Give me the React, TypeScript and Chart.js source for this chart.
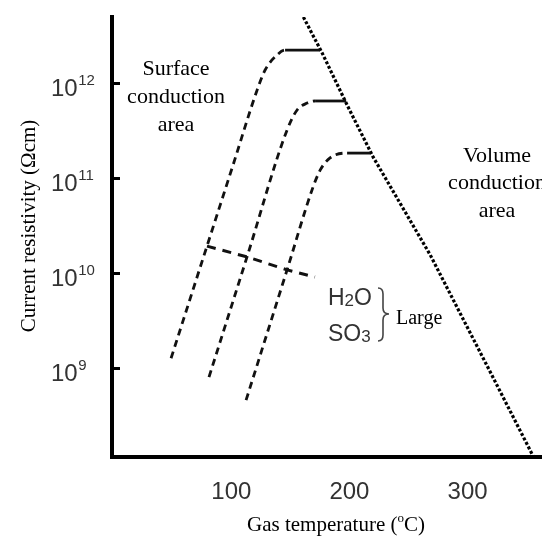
import React, { useEffect, useRef } from "react";
import { Chart, registerables } from "chart.js";

Chart.register(...registerables);

// ---- data ----
const xTicks = [100, 200, 300];
const yTicks = [1e9, 1e10, 1e11, 1e12];

// three dust resistivity curves: gas temperature (°C) -> resistivity (Ωcm)
const curve1Temp = [49, 79.4, 101.4, 121.8, 128.6, 138.7, 145.5, 175];
const curve1Res = [1.27e9, 1.92e10, 1.36e11, 8.4e11, 1.37e12, 1.97e12, 2.22e12, 2.22e12];

const curve2Temp = [81.1, 113.3, 147.2, 155.7, 164.2, 170.9, 197.2];
const curve2Res = [8.04e8, 1.48e10, 3.2e11, 5.2e11, 6.15e11, 6.47e11, 6.47e11];

const curve3Temp = [112.5, 147.2, 169.2, 175.2, 183.6, 198.0, 217.5];
const curve3Res = [4.6e8, 1.08e10, 8.04e10, 1.21e11, 1.63e11, 1.83e11, 1.83e11];

// volume conduction boundary line
const boundaryTemp = [161, 176.9, 198, 220.1, 268.4, 320.1, 356];
const boundaryRes = [4.95e12, 2.07e12, 5.87e11, 1.66e11, 1.55e10, 8.65e8, 1.15e8];

// H2O / SO3 direction line
const moistTemp = [79.4, 113.3, 147.2, 170.8];
const moistRes = [1.92e10, 1.48e10, 1.08e10, 9.08e9];

const xMin = -1;
const xMax = 363;
const yMin = 1.16e8;
const yMax = 4.95e12;

const serif = '"Liberation Serif", "Times New Roman", serif';
const sans = '"Liberation Sans", Arial, sans-serif';

const toPts = (xs: number[], ys: number[]) => xs.map((x, i) => ({ x, y: ys[i] }));

export default function App() {
  const ref = useRef<HTMLCanvasElement>(null);

  useEffect(() => {
    const canvas = ref.current;
    if (!canvas) return;

    const annotations = {
      id: "annotations",
      afterDraw(chart: any) {
        const { ctx, chartArea } = chart;
        const ys = chart.scales.y;
        ctx.save();

        // inward y tick marks
        ctx.strokeStyle = "#000";
        ctx.lineWidth = 3;
        yTicks.forEach((v) => {
          const py = Math.round(ys.getPixelForValue(v)) + 0.5;
          ctx.beginPath();
          ctx.moveTo(chartArea.left - 2, py);
          ctx.lineTo(chartArea.left + 8, py);
          ctx.stroke();
        });

        // y tick labels with superscript exponents
        ctx.fillStyle = "#333";
        ctx.textAlign = "left";
        ctx.textBaseline = "alphabetic";
        yTicks.forEach((v) => {
          const py = ys.getPixelForValue(v);
          ctx.font = `24px ${sans}`;
          ctx.fillText("10", 51, py + 13);
          const w = ctx.measureText("10").width;
          ctx.font = `15px ${sans}`;
          ctx.fillText(String(Math.round(Math.log10(v))), 51 + w + 0.5, py + 2);
        });

        // chemical labels
        const chem = (a: string, sub: string, b: string, x: number, base: number, subFirst: boolean) => {
          ctx.fillStyle = "#333";
          let cx = x;
          ctx.font = `23px ${sans}`;
          ctx.fillText(a, cx, base);
          cx += ctx.measureText(a).width;
          if (subFirst) {
            ctx.font = `17px ${sans}`;
            ctx.fillText(sub, cx, base + 1);
            cx += ctx.measureText(sub).width;
            ctx.font = `23px ${sans}`;
            ctx.fillText(b, cx, base);
          } else {
            ctx.fillText(b, cx, base);
            cx += ctx.measureText(b).width;
            ctx.font = `17px ${sans}`;
            ctx.fillText(sub, cx, base + 1);
          }
        };
        chem("H", "2", "O", 328, 305, true);
        chem("S", "3", "O", 328, 341, false);

        // brace
        ctx.strokeStyle = "#444";
        ctx.lineWidth = 1.6;
        ctx.beginPath();
        ctx.moveTo(378, 288);
        ctx.quadraticCurveTo(383, 288, 383, 294);
        ctx.lineTo(383, 308);
        ctx.quadraticCurveTo(383, 314, 389, 314);
        ctx.quadraticCurveTo(383, 314, 383, 320);
        ctx.lineTo(383, 335);
        ctx.quadraticCurveTo(383, 341, 378, 341);
        ctx.stroke();

        // serif annotations
        ctx.fillStyle = "#000";
        ctx.textAlign = "center";
        ctx.font = `22px ${serif}`;
        ctx.fillText("Surface", 176, 75);
        ctx.fillText("conduction", 176, 103);
        ctx.fillText("area", 176, 131);
        ctx.fillText("Volume", 497, 162);
        ctx.fillText("conduction", 497, 189);
        ctx.fillText("area", 497, 217);

        ctx.textAlign = "left";
        ctx.font = `20px ${serif}`;
        ctx.fillText("Large", 396, 324);

        // x axis title with superscript o
        ctx.font = `21px ${serif}`;
        const p1 = "Gas temperature (";
        const p3 = "C)";
        const w1 = ctx.measureText(p1).width;
        const w3 = ctx.measureText(p3).width;
        ctx.font = `13px ${serif}`;
        const w2 = ctx.measureText("o").width;
        let tx = 336 - (w1 + w2 + w3) / 2;
        ctx.font = `21px ${serif}`;
        ctx.fillText(p1, tx, 531);
        tx += w1;
        ctx.font = `13px ${serif}`;
        ctx.fillText("o", tx, 522);
        tx += w2;
        ctx.font = `21px ${serif}`;
        ctx.fillText(p3, tx, 531);

        // y axis title
        ctx.translate(35, 226);
        ctx.rotate(-Math.PI / 2);
        ctx.textAlign = "center";
        ctx.font = `21px ${serif}`;
        ctx.fillText("Current resistivity (Ωcm)", 0, 0);

        ctx.restore();
      },
    };

    const flatSolid = (c: any) => (c.p0.parsed.y === c.p1.parsed.y ? [] : undefined);

    const curveStyle = {
      borderColor: "#111",
      borderWidth: 2.8,
      borderDash: [7, 5],
      pointRadius: 0,
      fill: false,
      cubicInterpolationMode: "monotone" as const,
      segment: { borderDash: flatSolid },
    };

    const chart = new Chart(canvas, {
      type: "line",
      data: {
        datasets: [
          { label: "curve1", data: toPts(curve1Temp, curve1Res), ...curveStyle },
          { label: "curve2", data: toPts(curve2Temp, curve2Res), ...curveStyle },
          { label: "curve3", data: toPts(curve3Temp, curve3Res), ...curveStyle },
          {
            label: "boundary",
            data: toPts(boundaryTemp, boundaryRes),
            borderColor: "#000",
            borderWidth: 3.2,
            borderDash: [3, 2],
            pointRadius: 0,
            fill: false,
            tension: 0,
          },
          {
            label: "moisture",
            data: toPts(moistTemp, moistRes),
            borderColor: "#111",
            borderWidth: 3,
            borderDash: [9, 7],
            pointRadius: 0,
            fill: false,
            tension: 0,
          },
        ],
      },
      options: {
        responsive: false,
        animation: false,
        devicePixelRatio: 1,
        layout: { padding: { top: 17, left: 0, right: 0, bottom: 0 } },
        plugins: {
          legend: { display: false },
          tooltip: { enabled: false },
        },
        scales: {
          x: {
            type: "linear",
            min: xMin,
            max: xMax,
            grid: { display: false },
            border: { display: true, color: "#000", width: 4 },
            ticks: {
              font: { size: 24, family: sans },
              color: "#333",
              padding: 13,
              maxRotation: 0,
              autoSkip: false,
            },
            afterBuildTicks: (s: any) => {
              s.ticks = xTicks.map((v) => ({ value: v }));
            },
            afterFit: (s: any) => {
              s.height = 81;
            },
          },
          y: {
            type: "logarithmic",
            min: yMin,
            max: yMax,
            grid: { display: false },
            border: { display: true, color: "#000", width: 4 },
            ticks: { display: false },
            afterBuildTicks: (s: any) => {
              s.ticks = yTicks.map((v) => ({ value: v }));
            },
            afterFit: (s: any) => {
              s.width = 112;
            },
          },
        },
      },
      plugins: [annotations],
    });

    return () => chart.destroy();
  }, []);

  return (
    <div style={{ position: "absolute", left: 0, top: 0, width: 542, height: 538, background: "#fff" }}>
      <canvas ref={ref} width={542} height={538} style={{ display: "block" }} />
    </div>
  );
}
